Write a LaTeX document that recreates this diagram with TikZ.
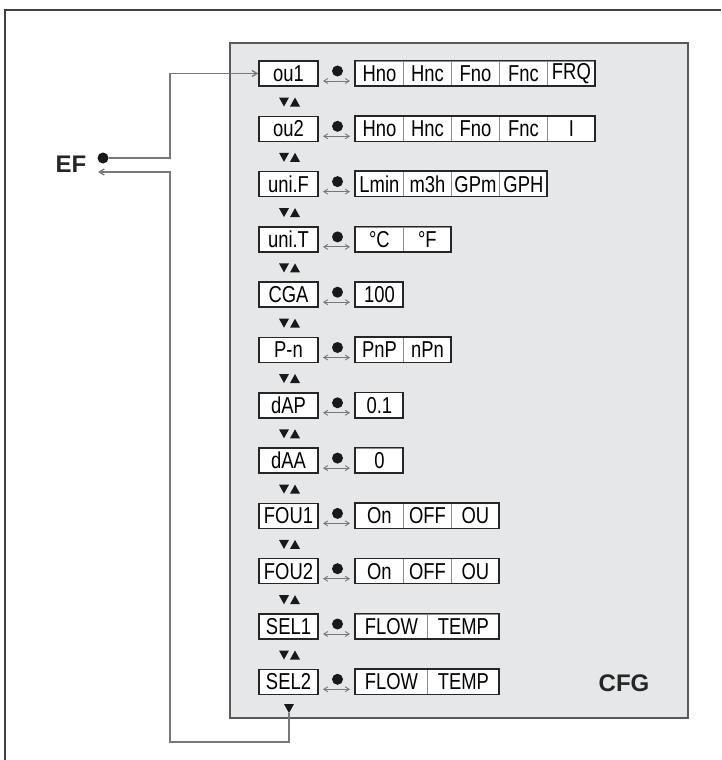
\documentclass[tikz,border=0pt]{standalone}
\usepackage{fontspec}
\setmainfont{Liberation Sans}
\newfontfamily\narrowfont{Liberation Sans}[FakeStretch=0.8]
\usetikzlibrary{arrows.meta}
\definecolor{panelgrey}{HTML}{E6E7E8}
\definecolor{linegrey}{HTML}{787878}

\begin{document}
\begin{tikzpicture}[x=1pt,y=-1pt,
    param/.style={draw=black!85,line width=1.5pt,fill=white,inner sep=0pt,
                  minimum width=59pt,minimum height=25pt,
                  font=\narrowfont\fontsize{23}{23}\selectfont},
    cell/.style={draw=black!45,line width=0.8pt,fill=white,inner sep=0pt,
                 minimum height=25pt,anchor=west,
                 font=\narrowfont\fontsize{23}{23}\selectfont},
    dot/.style={circle,fill=black!90,inner sep=0pt,minimum size=11pt},
    toggle/.style={draw=linegrey,line width=0.9pt,
                   {Straight Barb[length=4pt,width=5pt]}-{Straight Barb[length=4pt,width=5pt]}},
    link/.style={draw=linegrey,line width=1.3pt},
    title/.style={font=\bfseries\fontsize{24}{24}\selectfont,text=black!85}
  ]
    \useasboundingbox (0,0) rectangle (721,760);

    % outer frame and menu panel
    \draw[line width=1.5pt,black!75] (5,760) -- (5,10) -- (721,10);
    \draw[fill=panelgrey,draw=black!65,line width=1.2pt] (230,43) rectangle (688,718);

    % parameter rows
    \foreach \lab/\cnt/\w/\vals [count=\i] in {
        ou1/5/48/{Hno,Hnc,Fno,Fnc,FRQ},
        ou2/5/48/{Hno,Hnc,Fno,Fnc,I},
        uni.F/4/48/{Lmin,m3h,GPm,GPH},
        uni.T/2/48/{°C,°F},
        CGA/1/48/{100},
        P-n/2/48/{PnP,nPn},
        dAP/1/48/{0.1},
        dAA/1/48/{0},
        FOU1/3/48/{On,OFF,OU},
        FOU2/3/48/{On,OFF,OU},
        SEL1/2/72/{FLOW,TEMP},
        SEL2/2/72/{FLOW,TEMP}}
    {
      \pgfmathsetmacro\yc{73.5+55.3*(\i-1)}
      \node[param] (p\i) at (288.5,\yc) {\lab};
      \node[dot] (k\i) at (337.5,\yc-2.5) {};
      \draw[toggle] (323,\yc+7.5) -- (350,\yc+7.5);
      \foreach \v [count=\j] in \vals
        \node[cell,minimum width=\w pt] (c\i-\j) at ({355+\w*(\j-1)},\yc) {\v};
      \draw[black!85,line width=1.5pt] (c\i-1.north west) rectangle ({355+\w*\cnt},\yc+12.5);
    }

    % up/down keys between rows
    \foreach \i in {1,...,11}{
      \pgfmathsetmacro\yt{73.5+55.3*(\i-1)+28.5}
      \fill[black!90] (279,\yt-4.5) -- (289,\yt-4.5) -- (284,\yt+4.5) -- cycle;
      \fill[black!90] (290,\yt+4.5) -- (300,\yt+4.5) -- (295,\yt-4.5) -- cycle;
    }
    \fill[black!90] (284,704) -- (294,704) -- (289,713) -- cycle;

    \node[title] (ef) at (71,164.5) {EF};
    \node[title] (cfg) at (624,683) {CFG};

    % entry and return path
    \node[dot] (efdot) at (103,158) {};
    \coordinate (bendin) at (170,158);
    \coordinate (lastkey) at (289,713);
    \coordinate (bendout) at (170,742);
    \coordinate (efin) at (98,172);
    \draw[link,-{Straight Barb[length=5pt,width=6pt]}] (efdot) -- (bendin) |- (p1);
    \draw[link,-{Straight Barb[length=5pt,width=6pt]}] (lastkey) |- (bendout) |- (efin);
\end{tikzpicture}
\end{document}
